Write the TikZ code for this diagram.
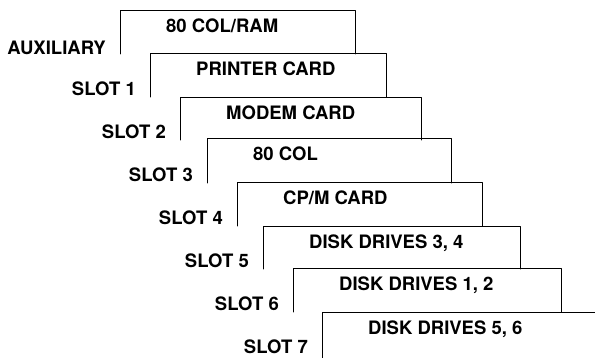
\documentclass[tikz,border=0pt]{standalone}
\usepackage{fontspec}
\setmainfont{TeX Gyre Heros}
\begin{document}
\begin{tikzpicture}[
    x=1pt, y=-1pt,
    line cap=round,
    line join=round,
    cardtext/.style={anchor=base west, inner sep=0pt, font=\bfseries\fontsize{18.5}{20}\selectfont},
    slottext/.style={anchor=base east, inner sep=0pt, font=\bfseries\fontsize{18.5}{20}\selectfont}
]

\useasboundingbox (0,0) rectangle (595,358);

% Karten, von oben nach unten: links/oben/rechts/unten/Grundlinie der Slot-Beschriftung
\foreach \l/\t/\r/\b/\s/\card/\slot [count=\i from 0] in {
    120/11/355/54/55/{80 COL/RAM}/AUXILIARY,
    150/54/386/97/96/PRINTER CARD/SLOT 1,
    180/98/421/140/139/MODEM CARD/SLOT 2,
    207/139/451/183/182/80 COL/SLOT 3,
    237/183/482/226/225/{CP/M CARD}/SLOT 4,
    263/227/520/269/268/{DISK DRIVES 3, 4}/SLOT 5,
    293/269/561/312/311/{DISK DRIVES 1, 2}/SLOT 6,
    322/313/600/359/353/{DISK DRIVES 5, 6}/SLOT 7
}{
    \draw[line width=1pt] (\l,\b) -- (\l,\t) -- (\r,\t) -- (\r,\b);
    \node[cardtext] (card\i) at (\l+46,\t+22) {\card};
    \node[slottext] (slot\i) at (\l-14,\s) {\slot};
}

\end{tikzpicture}
\end{document}
